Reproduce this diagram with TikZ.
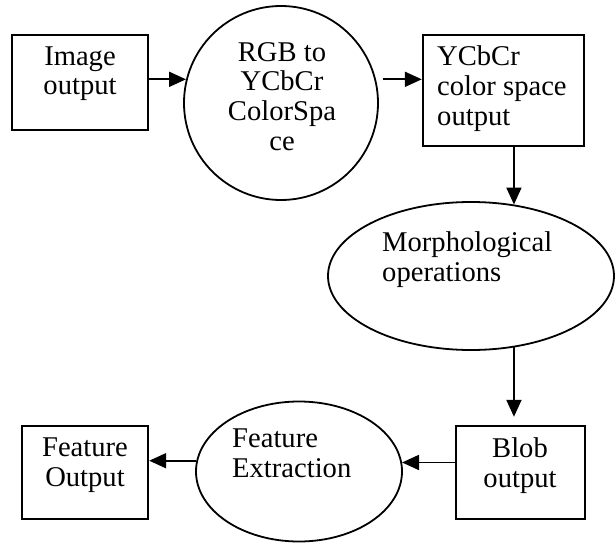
\documentclass[tikz,border=0pt]{standalone}
\usepackage{fontspec}
\setmainfont{Liberation Serif}
\usetikzlibrary{arrows.meta,shapes.geometric}
\tikzset{
  box/.style={draw, line width=2.4pt, rectangle, inner sep=0pt},
  round/.style={draw, line width=1.8pt, inner sep=0pt},
  arr/.style={line width=1.9pt, -{Triangle[length=17pt,width=15pt]}},
  lbl/.style={font=\fontsize{28.6}{29.6}\selectfont, inner sep=0pt},
}
\begin{document}
\begin{tikzpicture}[x=1pt,y=1pt]
\useasboundingbox (0,0) rectangle (616,-543);
% shapes
\node[box, minimum width=136pt, minimum height=95pt] (img) at (80,-82.5) {};
\node[round, circle, minimum size=194pt] (circ) at (281,-103) {};
\node[box, minimum width=161pt, minimum height=111pt] (ycc) at (503.5,-90.5) {};
\node[round, ellipse, minimum width=286pt, minimum height=148pt] (morph) at (471,-276) {};
\node[box, minimum width=129pt, minimum height=93pt] (blob) at (520.5,-472.5) {};
\node[round, ellipse, minimum width=206pt, minimum height=140pt] (fe) at (299,-471.5) {};
\node[box, minimum width=126pt, minimum height=93pt] (fo) at (85,-472.5) {};
% texts (anchor base = last line's baseline)
\node[lbl, align=center, anchor=base] (timg) at (80,-95) {Image\\output};
\node[lbl, align=center, anchor=base] (tcirc) at (282,-150) {RGB to\\YCbCr\\ColorSpa\\ce};
\node[lbl, align=left, anchor=base west] (tycc) at (437,-125) {YCbCr\\color space\\output};
\node[lbl, align=left, anchor=base west] (tmorph) at (382,-281) {Morphological\\operations};
\node[lbl, align=center, anchor=base] (tblob) at (520,-487) {Blob\\output};
\node[lbl, align=left, anchor=base west] (tfe) at (232,-477) {Feature\\Extraction};
\node[lbl, align=center, anchor=base] (tfo) at (85,-486) {Feature\\Output};
% connectors
\draw[arr] (img.east |- circ.166) -- (circ.166);
\draw[arr, shorten <=7pt] (circ.14) -- (ycc.west |- circ.14);
\draw[arr] (ycc.south -| morph.59.3) -- (morph.59.3);
\draw[arr, shorten >=8pt] (morph.-59.3) -- (blob.north -| morph.-59.3);
\draw[arr] (blob.west |- fe.5.9) -- (fe.5.9);
\draw[arr] (fe.174.1) -- (fo.east |- fe.174.1);
\end{tikzpicture}
\end{document}
